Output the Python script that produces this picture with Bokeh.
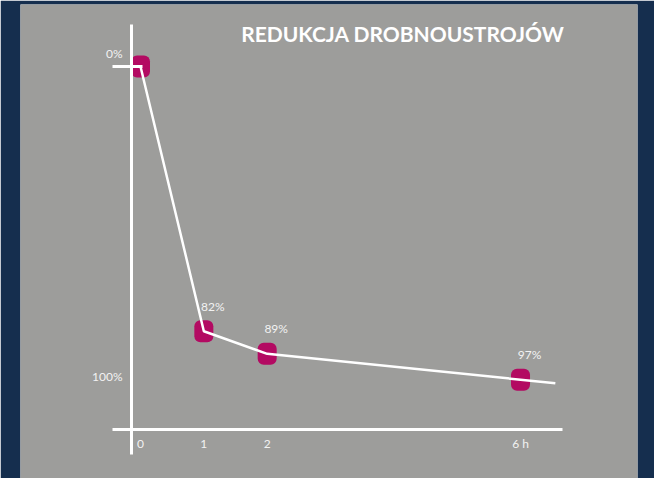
from bokeh.plotting import figure
from bokeh.models import Range1d, LinearAxis, FixedTicker, Label
from bokeh.core.properties import value
from bokeh.embed import file_html
from bokeh.resources import INLINE

# ---- data ----
hours = [0, 1, 2, 6]
reduction = [0, 82, 89, 97]
x_ticks = [0, 1, 2, 6]
x_tick_labels = ["0", "1", "2", "6 h"]
y_ticks = [0, 100]
y_tick_labels = ["0%", "100%"]
title_text = "REDUKCJA DROBNOUSTROJÓW"

# ---- styling / layout ----
NAVY = "#152e4e"
GRAY = "#9d9d9b"
MAGENTA = "#b30a62"
LABEL_COLOR = "#f2f2f2"
FONT = "Lato"

YAXIS_AT = -0.142      # hours, where the vertical axis crosses
XAXIS_AT = 112.44      # percent, where the horizontal axis sits

p = figure(width=654, height=478, output_backend="svg", toolbar_location=None,
           x_range=Range1d(-1.8947, 7.847), y_range=Range1d(127.61, -19.20),
           x_axis_type=None, y_axis_type=None,
           min_border_left=20, min_border_right=17, min_border_top=4, min_border_bottom=0,
           background_fill_color=GRAY, border_fill_color=NAVY, outline_line_color=None)

yaxis = LinearAxis(fixed_location=YAXIS_AT, bounds=(-13.0, 120.2),
                   ticker=FixedTicker(ticks=y_ticks[:1]),
                   axis_line_color="white", axis_line_width=3,
                   major_tick_line_color="white", major_tick_line_width=3,
                   major_tick_out=19, major_tick_in=11,
                   minor_tick_line_color=None, major_label_text_color=None)
p.add_layout(yaxis, "left")

xaxis = LinearAxis(fixed_location=XAXIS_AT, bounds=(-0.442, 6.663),
                   ticker=FixedTicker(ticks=x_ticks),
                   major_label_overrides={t: l for t, l in zip(x_ticks, x_tick_labels)},
                   axis_line_color="white", axis_line_width=3,
                   major_tick_line_color=None, minor_tick_line_color=None,
                   major_tick_out=0, major_tick_in=0, major_label_standoff=6,
                   major_label_text_color=LABEL_COLOR, major_label_text_font=FONT,
                   major_label_text_font_size="12px")
p.add_layout(xaxis, "below")

# y tick labels, placed above-left of the tick positions
p.text(x=[YAXIS_AT] * len(y_ticks), y=y_ticks, text=y_tick_labels,
       x_offset=-9, y_offset=-13, text_align="right", text_baseline="middle",
       text_color=LABEL_COLOR, text_font=value(FONT), text_font_size="12px")

# markers first, the line is drawn over them
p.rect(hours, reduction, width=19, height=22, width_units="screen", height_units="screen",
       fill_color=MAGENTA, line_color=None, border_radius=6)

# trend line (with a short continuation along the last segment)
ext = 0.55
ext_h = hours[-1] + ext
ext_v = reduction[-1] + (reduction[-1] - reduction[-2]) / (hours[-1] - hours[-2]) * ext
p.line(hours + [ext_h], reduction + [ext_v], line_color="white", line_width=2.5)

p.text(x=hours[1:], y=reduction[1:], text=[f"{v}%" for v in reduction[1:]],
       x_offset=9, y_offset=-25, text_align="center", text_baseline="middle",
       text_color=LABEL_COLOR, text_font=value(FONT), text_font_size="12px")

p.add_layout(Label(x=6.695, y=-10.2, text=title_text, text_align="right",
                   text_baseline="middle", text_color="white", text_font=FONT,
                   text_font_style="bold", text_font_size="21px"))

html = file_html(p, INLINE)
html = html.replace("<body>", '<body style="background-color:%s; overflow:hidden;">' % NAVY, 1)
open("out.html", "w").write(html)
